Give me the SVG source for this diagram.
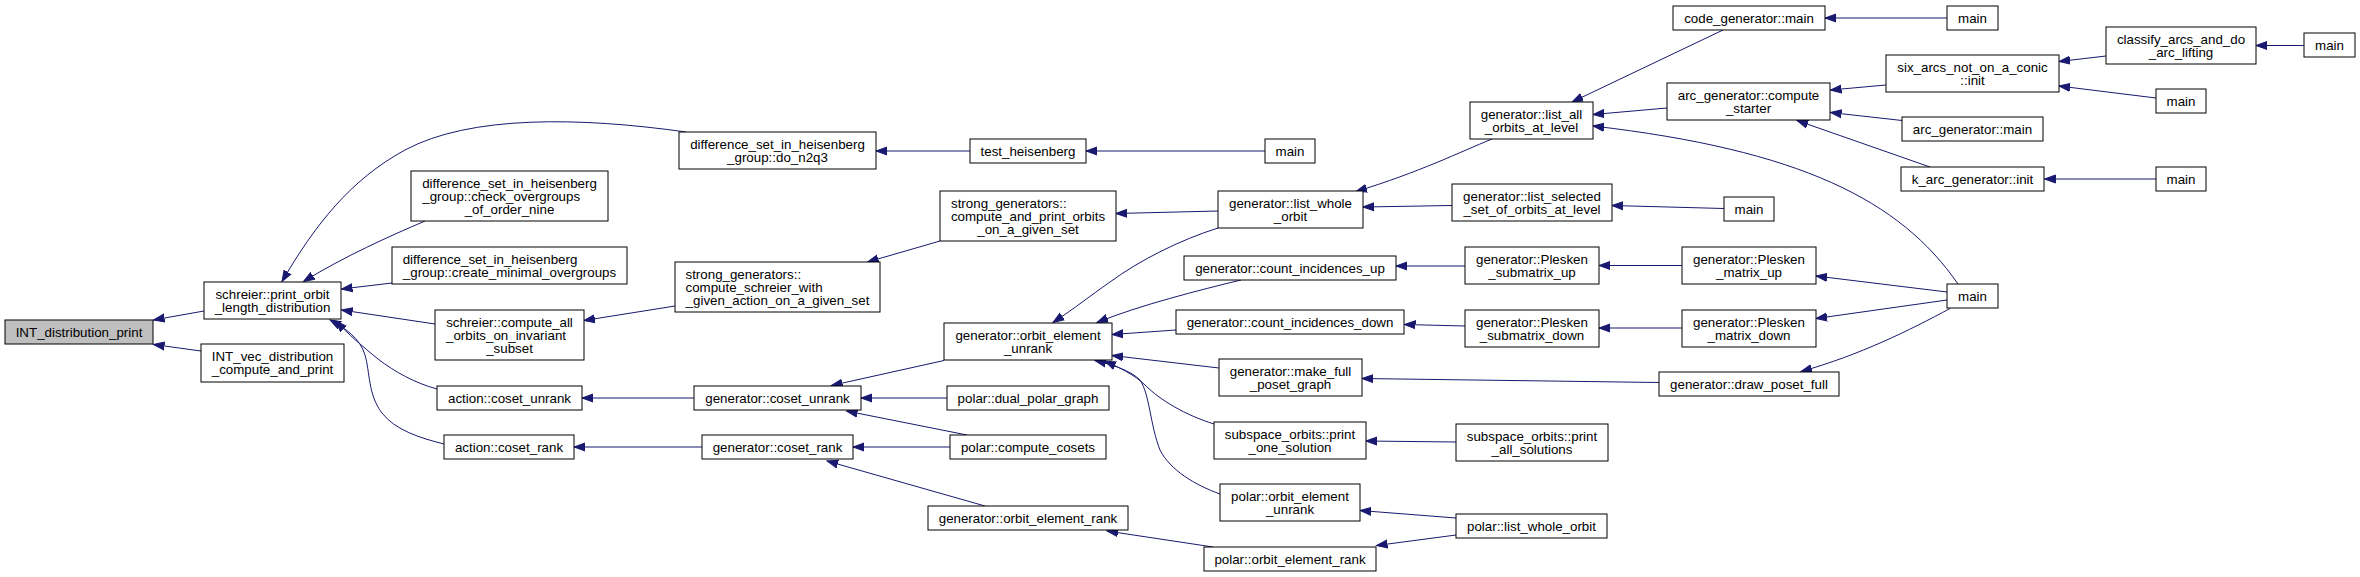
<svg xmlns="http://www.w3.org/2000/svg" width="2360" height="577" viewBox="0 0 2360 577">
<style>
.n rect{fill:#fff;stroke:#000;stroke-width:1}
.g rect{fill:#bfbfbf;stroke:#000;stroke-width:1}
text{font-family:"Liberation Sans",Arial,Helvetica,sans-serif;font-size:13.33px;text-anchor:middle;fill:#000}
text.l{text-anchor:start}
#edges path{fill:none;stroke:#191970;stroke-width:1;marker-end:url(#a)}
</style>
<defs>
<marker id="a" markerUnits="userSpaceOnUse" markerWidth="12" markerHeight="10" viewBox="0 0 12 10" refX="11" refY="5" orient="auto">
<path d="M0,1 L11,5 L0,9 Z" fill="#191970" stroke="#191970" stroke-width="1"/>
</marker>
</defs>
<rect width="2360" height="577" fill="#fff"/>
<g id="edges">
<path d="M204,311 L153.5,320"/>
<path d="M201,351 L153.5,344.5"/>
<path d="M686,132 C580,117 470,115 405,150 C350,180 315,225 282,281.5"/>
<path d="M425,221 C390,236 345,256 303.5,281.5"/>
<path d="M392,283 L341.5,289"/>
<path d="M435,324 L341.5,310"/>
<path d="M437,389 C415,383 395,372 378,359 C362,346 348,334 336,321"/>
<path d="M444,444 C420,438 395,430 382,413 C368,395 370,372 365,355 C360,338 345,328 330,320"/>
<path d="M675,306 L584,320.5"/>
<path d="M970,151 L876,151"/>
<path d="M1265,151 L1086,151"/>
<path d="M940,241 L867.5,262"/>
<path d="M1218,211 L1116,213.5"/>
<path d="M1218,228 C1180,240 1140,260 1110,282 C1090,296 1075,308 1053,322.5"/>
<path d="M1241,280 C1200,290 1140,305 1097,322.5"/>
<path d="M1176,330 L1112,334.5"/>
<path d="M1219,368 L1112,355.5"/>
<path d="M1214,424 C1185,415 1160,400 1145,385 C1135,375 1120,368 1105,361"/>
<path d="M1220,494 C1195,485 1170,470 1160,450 C1150,425 1150,395 1140,380 C1130,370 1110,364 1095,360.5"/>
<path d="M944,360.5 L831.5,385.5"/>
<path d="M947,398 L861,398"/>
<path d="M967,435 L846.5,411"/>
<path d="M694,398 L582,398"/>
<path d="M702,447 L574,447"/>
<path d="M950,447 L853,447"/>
<path d="M985,506 L827,461"/>
<path d="M1213,547 L1107,531"/>
<path d="M1456,518 L1360,510.5"/>
<path d="M1456,535 L1376.5,545.5"/>
<path d="M1492,139 C1460,152 1420,172 1356,191.5"/>
<path d="M1452,205.5 L1363,207"/>
<path d="M1465,266 L1396,266"/>
<path d="M1465,326 L1404.5,324.5"/>
<path d="M1659,382.5 L1362,378.5"/>
<path d="M1456,442 L1366,441"/>
<path d="M1723,30 L1572,102"/>
<path d="M1667,108 L1593,114.5"/>
<path d="M1958,284 C1900,200 1800,150 1593,126"/>
<path d="M1950,308.5 C1910,330 1860,355 1801,371.5"/>
<path d="M1947,300 L1816,318.5"/>
<path d="M1947,292 L1816,276"/>
<path d="M1682,265.5 L1599,265.5"/>
<path d="M1682,328 L1599,328"/>
<path d="M1724,208.5 L1612,205.5"/>
<path d="M1886,85 L1830.5,90"/>
<path d="M1902,120.5 L1830.5,112.5"/>
<path d="M1930,167 L1797,120.5"/>
<path d="M1947,18 L1825,18"/>
<path d="M2106,56 L2059,61.5"/>
<path d="M2156,98 L2059,86"/>
<path d="M2304,45.5 L2256,45.5"/>
<path d="M2156,179 L2044.5,179"/>
</g>
<g id="n1" class="g"><rect x="5" y="320" width="148" height="24"/><text x="79" y="336.7">INT_distribution_print</text></g>
<g id="n2" class="n"><rect x="204" y="282" width="137" height="37"/><text x="272.5" y="298.5">schreier::print_orbit</text><text x="272.5" y="311.5">_length_distribution</text></g>
<g id="n3" class="n"><rect x="201" y="344" width="143" height="38"/><text x="272.5" y="361">INT_vec_distribution</text><text x="272.5" y="374">_compute_and_print</text></g>
<g id="n4" class="n"><rect x="679" y="132" width="197" height="37"/><text x="777.5" y="148.5">difference_set_in_heisenberg</text><text x="777.5" y="161.5">_group::do_n2q3</text></g>
<g id="n5" class="n"><rect x="411" y="171" width="197" height="50"/><text x="509.5" y="187.5">difference_set_in_heisenberg</text><text class="l" x="422.3" y="200.5">_group::check_overgroups</text><text x="509.5" y="213.5">_of_order_nine</text></g>
<g id="n6" class="n"><rect x="392" y="247" width="235" height="37"/><text class="l" x="402.7" y="263.5">difference_set_in_heisenberg</text><text x="509.5" y="276.5">_group::create_minimal_overgroups</text></g>
<g id="n7" class="n"><rect x="435" y="310" width="149" height="50"/><text x="509.5" y="326.5">schreier::compute_all</text><text class="l" x="446" y="339.5">_orbits_on_invariant</text><text x="509.5" y="352.5">_subset</text></g>
<g id="n8" class="n"><rect x="437" y="386" width="145" height="24"/><text x="509.5" y="402.7">action::coset_unrank</text></g>
<g id="n9" class="n"><rect x="444" y="435" width="130" height="24"/><text x="509" y="451.7">action::coset_rank</text></g>
<g id="n10" class="n"><rect x="675" y="262" width="205" height="50"/><text class="l" x="685.5" y="278.5">strong_generators::</text><text class="l" x="685.5" y="291.5">compute_schreier_with</text><text x="777.5" y="304.5">_given_action_on_a_given_set</text></g>
<g id="n11" class="n"><rect x="970" y="139" width="116" height="24"/><text x="1028" y="155.7">test_heisenberg</text></g>
<g id="n12" class="n"><rect x="1265" y="139" width="50" height="24"/><text x="1290" y="155.7">main</text></g>
<g id="n13" class="n"><rect x="940" y="191" width="176" height="50"/><text class="l" x="951" y="207.5">strong_generators::</text><text x="1028" y="220.5">compute_and_print_orbits</text><text x="1028" y="233.5">_on_a_given_set</text></g>
<g id="n14" class="n"><rect x="944" y="323" width="168" height="37"/><text x="1028" y="339.5">generator::orbit_element</text><text x="1028" y="352.5">_unrank</text></g>
<g id="n15" class="n"><rect x="947" y="386" width="162" height="24"/><text x="1028" y="402.7">polar::dual_polar_graph</text></g>
<g id="n16" class="n"><rect x="950" y="435" width="156" height="24"/><text x="1028" y="451.7">polar::compute_cosets</text></g>
<g id="n17" class="n"><rect x="928" y="506" width="200" height="24"/><text x="1028" y="522.7">generator::orbit_element_rank</text></g>
<g id="n18" class="n"><rect x="694" y="386" width="167" height="24"/><text x="777.5" y="402.7">generator::coset_unrank</text></g>
<g id="n19" class="n"><rect x="702" y="435" width="151" height="24"/><text x="777.5" y="451.7">generator::coset_rank</text></g>
<g id="n20" class="n"><rect x="1218" y="191" width="145" height="37"/><text x="1290.5" y="207.5">generator::list_whole</text><text x="1290.5" y="220.5">_orbit</text></g>
<g id="n21" class="n"><rect x="1184" y="256" width="212" height="24"/><text x="1290" y="272.7">generator::count_incidences_up</text></g>
<g id="n22" class="n"><rect x="1176" y="310" width="228" height="24"/><text x="1290" y="326.7">generator::count_incidences_down</text></g>
<g id="n23" class="n"><rect x="1219" y="359" width="143" height="37"/><text x="1290.5" y="375.5">generator::make_full</text><text x="1290.5" y="388.5">_poset_graph</text></g>
<g id="n24" class="n"><rect x="1214" y="422" width="152" height="37"/><text x="1290" y="438.5">subspace_orbits::print</text><text x="1290" y="451.5">_one_solution</text></g>
<g id="n25" class="n"><rect x="1220" y="484" width="140" height="37"/><text x="1290" y="500.5">polar::orbit_element</text><text x="1290" y="513.5">_unrank</text></g>
<g id="n26" class="n"><rect x="1204" y="547" width="172" height="24"/><text x="1290" y="563.7">polar::orbit_element_rank</text></g>
<g id="n27" class="n"><rect x="1470" y="102" width="123" height="37"/><text x="1531.5" y="118.5">generator::list_all</text><text x="1531.5" y="131.5">_orbits_at_level</text></g>
<g id="n28" class="n"><rect x="1452" y="184" width="160" height="37"/><text x="1532" y="200.5">generator::list_selected</text><text x="1532" y="213.5">_set_of_orbits_at_level</text></g>
<g id="n29" class="n"><rect x="1465" y="247" width="134" height="37"/><text x="1532" y="263.5">generator::Plesken</text><text x="1532" y="276.5">_submatrix_up</text></g>
<g id="n30" class="n"><rect x="1465" y="310" width="134" height="37"/><text x="1532" y="326.5">generator::Plesken</text><text x="1532" y="339.5">_submatrix_down</text></g>
<g id="n31" class="n"><rect x="1456" y="424" width="152" height="37"/><text x="1532" y="440.5">subspace_orbits::print</text><text x="1532" y="453.5">_all_solutions</text></g>
<g id="n32" class="n"><rect x="1456" y="514" width="151" height="24"/><text x="1531.5" y="530.7">polar::list_whole_orbit</text></g>
<g id="n33" class="n"><rect x="1673" y="6" width="152" height="24"/><text x="1749" y="22.7">code_generator::main</text></g>
<g id="n34" class="n"><rect x="1947" y="6" width="51" height="24"/><text x="1972.5" y="22.7">main</text></g>
<g id="n35" class="n"><rect x="1667" y="83" width="163" height="37"/><text x="1748.5" y="99.5">arc_generator::compute</text><text x="1748.5" y="112.5">_starter</text></g>
<g id="n36" class="n"><rect x="1886" y="55" width="173" height="37"/><text x="1972.5" y="71.5">six_arcs_not_on_a_conic</text><text x="1972.5" y="84.5">::init</text></g>
<g id="n37" class="n"><rect x="1902" y="117" width="141" height="24"/><text x="1972.5" y="133.7">arc_generator::main</text></g>
<g id="n38" class="n"><rect x="1901" y="167" width="143" height="24"/><text x="1972.5" y="183.7">k_arc_generator::init</text></g>
<g id="n39" class="n"><rect x="1724" y="197" width="50" height="24"/><text x="1749" y="213.7">main</text></g>
<g id="n40" class="n"><rect x="1682" y="247" width="134" height="37"/><text x="1749" y="263.5">generator::Plesken</text><text x="1749" y="276.5">_matrix_up</text></g>
<g id="n41" class="n"><rect x="1682" y="310" width="134" height="37"/><text x="1749" y="326.5">generator::Plesken</text><text x="1749" y="339.5">_matrix_down</text></g>
<g id="n42" class="n"><rect x="1659" y="372" width="180" height="24"/><text x="1749" y="388.7">generator::draw_poset_full</text></g>
<g id="n43" class="n"><rect x="1947" y="284" width="51" height="24"/><text x="1972.5" y="300.7">main</text></g>
<g id="n44" class="n"><rect x="2106" y="27" width="150" height="37"/><text x="2181" y="43.5">classify_arcs_and_do</text><text x="2181" y="56.5">_arc_lifting</text></g>
<g id="n45" class="n"><rect x="2304" y="33" width="51" height="24"/><text x="2329.5" y="49.7">main</text></g>
<g id="n46" class="n"><rect x="2156" y="89" width="50" height="24"/><text x="2181" y="105.7">main</text></g>
<g id="n47" class="n"><rect x="2156" y="167" width="50" height="24"/><text x="2181" y="183.7">main</text></g>
</svg>
